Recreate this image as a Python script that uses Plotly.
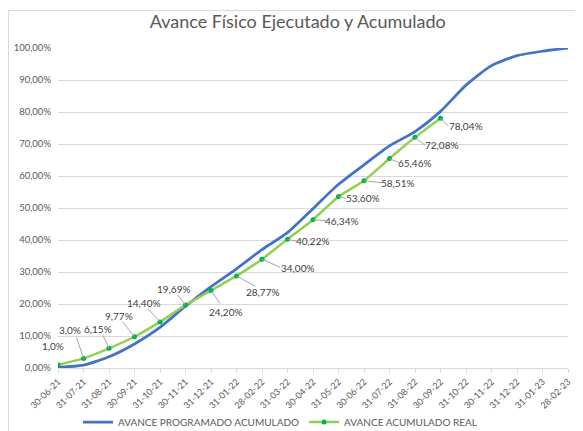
import plotly.graph_objects as go

categories = ["30-06-21", "31-07-21", "31-08-21", "30-09-21", "31-10-21", "30-11-21",
              "31-12-21", "31-01-22", "28-02-22", "31-03-22", "30-04-22", "31-05-22",
              "30-06-22", "31-07-22", "31-08-22", "30-09-22", "31-10-22", "30-11-22",
              "31-12-22", "31-01-23", "28-02-23"]

programado = [0.2, 0.9, 3.5, 7.5, 12.7, 19.3, 25.4, 31.0, 37.0, 42.3, 49.8, 57.4,
              63.5, 69.4, 73.9, 80.2, 88.4, 94.5, 97.6, 99.0, 100.0]

real = [1.0, 3.0, 6.15, 9.77, 14.40, 19.69, 24.20, 28.77, 34.00, 40.22, 46.34,
        53.60, 58.51, 65.46, 72.08, 78.04]

real_labels = ["1,0%", "3,0%", "6,15%", "9,77%", "14,40%", "19,69%", "24,20%",
               "28,77%", "34,00%", "40,22%", "46,34%", "53,60%", "58,51%",
               "65,46%", "72,08%", "78,04%"]

y_ticks = [0, 10, 20, 30, 40, 50, 60, 70, 80, 90, 100]
y_tick_labels = ["0,00%", "10,00%", "20,00%", "30,00%", "40,00%", "50,00%",
                 "60,00%", "70,00%", "80,00%", "90,00%", "100,00%"]

# label centre offsets (screen pixels, y down) relative to each point
label_dx = [-5, -14, -11, -16, -16, -12, 15, 26, 36, 25, 29, 24, 34, 25, 27, 25]
label_dy = [-19, -28, -19, -21, -19, -16, 21, 16, 9, 2, 1, 2, 2, 4, 8, 8]
# leader line end offsets (screen pixels, y down)
lead_dx = [-3, -7, -6, -12, -12, -8, 9, 18, 18, 9, 13, 8, 18, 9, 10, 8]
lead_dy = [-13, -21, -13, -15, -13, -10, 13, 10, 8, 2, 1, 2, 2, 4, 8, 8]

FONT = "Lato"
GRAY = "#595959"

xi = list(range(len(categories)))

fig = go.Figure()
fig.add_trace(go.Scatter(
    x=xi, y=programado, mode="lines", name="AVANCE PROGRAMADO ACUMULADO",
    line=dict(color="#4472C4", width=2.75, shape="spline", smoothing=0.6),
))
fig.add_trace(go.Scatter(
    x=xi[:len(real)], y=real, mode="lines+markers", name="AVANCE ACUMULADO REAL",
    line=dict(color="#92D050", width=2.5, shape="spline", smoothing=0.4),
    marker=dict(color="#00B050", size=5),
))

for i, (v, t) in enumerate(zip(real, real_labels)):
    fig.add_shape(
        type="line", xref="x", yref="y",
        xsizemode="pixel", xanchor=i, x0=0, x1=lead_dx[i],
        ysizemode="pixel", yanchor=v, y0=0, y1=-lead_dy[i],
        line=dict(color="#A6A6A6", width=1), layer="above",
    )
    fig.add_annotation(
        x=i, y=v, text=t, showarrow=False, xanchor="center", yanchor="middle",
        xshift=label_dx[i], yshift=-label_dy[i],
        font=dict(family=FONT, size=10, color="#404040"),
    )

# chart border
fig.add_shape(type="rect", xref="paper", yref="paper",
              x0=-0.097, x1=1.06, y0=-0.25, y1=1.117,
              line=dict(color="#D9D9D9", width=1), layer="below")

fig.update_layout(
    width=575, height=423,
    margin=dict(l=50, r=15, t=39.5, b=62.5, autoexpand=False),
    paper_bgcolor="white", plot_bgcolor="white",
    title=dict(text="Avance Físico Ejecutado y Acumulado", x=0.504, xanchor="center",
               y=0.967, yanchor="middle",
               font=dict(family=FONT, size=18, color=GRAY)),
    xaxis=dict(range=[0, len(categories) - 1], tickmode="array", tickvals=xi,
               ticktext=categories, tickangle=-45, showgrid=False,
               showline=True, linecolor="#D9D9D9", ticks="outside", ticklen=4,
               tickcolor="#D9D9D9", tickfont=dict(family=FONT, size=9, color=GRAY),
               zeroline=False, fixedrange=True, automargin=False),
    yaxis=dict(range=[0, 100], tickmode="array", tickvals=y_ticks, ticktext=y_tick_labels,
               showgrid=True, gridcolor="#D9D9D9", gridwidth=1, zeroline=False,
               showline=False, ticks="", ticklabelstandoff=6, automargin=False,
               tickfont=dict(family=FONT, size=9.5, color=GRAY)),
    legend=dict(orientation="h", xref="container", yref="container",
                x=0.473, xanchor="center", y=0.021, yanchor="middle",
                font=dict(family=FONT, size=10, color=GRAY),
                itemwidth=30, bgcolor="rgba(0,0,0,0)"),
    showlegend=True,
)

fig.write_html("out.html")
